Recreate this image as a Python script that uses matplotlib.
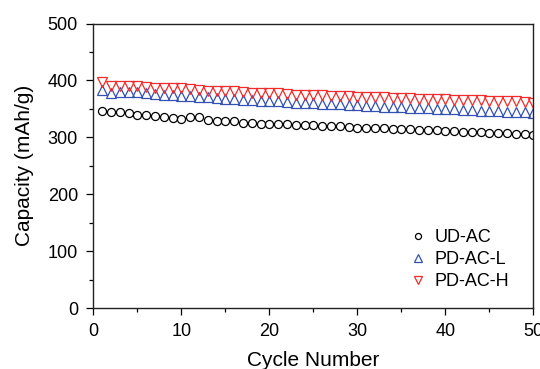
import numpy as np
import matplotlib
matplotlib.use("Agg")
import matplotlib.pyplot as plt
from matplotlib.ticker import MultipleLocator

plt.rcParams['font.family'] = ['Liberation Sans', 'DejaVu Sans']

cycles = np.arange(1, 51)

ud_ac = [346, 344, 345, 342, 340, 339, 338, 336, 334, 333,
         336, 335, 330, 329, 328, 329, 326, 325, 324, 324,
         323, 323, 322, 321, 321, 320, 319, 319, 318, 317,
         316, 316, 316, 315, 314, 314, 313, 313, 312, 311,
         311, 310, 309, 309, 308, 308, 307, 306, 305, 304]

pd_ac_l = [384, 378, 380, 379, 379, 377, 376, 375, 374, 373,
           373, 371, 370, 369, 368, 367, 366, 365, 364, 364,
           363, 362, 361, 361, 360, 359, 358, 358, 357, 356,
           355, 355, 354, 353, 353, 352, 351, 351, 350, 350,
           349, 348, 348, 347, 346, 346, 345, 345, 344, 343]

pd_ac_h = [397, 390, 391, 391, 391, 388, 387, 386, 386, 386,
           385, 383, 382, 382, 381, 382, 379, 378, 378, 377,
           377, 376, 375, 375, 374, 374, 373, 372, 372, 371,
           371, 370, 370, 369, 369, 369, 368, 368, 367, 367,
           366, 366, 365, 365, 364, 364, 363, 363, 362, 361]

fig = plt.figure(figsize=(5.4, 3.69), dpi=100)
ax = fig.add_axes([0.1728, 0.1653, 0.8148, 0.771])

ax.plot(cycles, ud_ac, 'o', ms=5.8, mfc='none', mec='black', mew=0.9, label='UD-AC')
ax.plot(cycles, pd_ac_l, '^', ms=6.8, mfc='none', mec='#3450b4', mew=0.9, label='PD-AC-L')
ax.plot(cycles, pd_ac_h, 'v', ms=6.8, mfc='none', mec='#f52a2a', mew=0.9, label='PD-AC-H')

ax.set_xlim(0, 50)
ax.set_ylim(0, 500)
ax.xaxis.set_major_locator(MultipleLocator(10))
ax.xaxis.set_minor_locator(MultipleLocator(5))
ax.yaxis.set_major_locator(MultipleLocator(100))
ax.yaxis.set_minor_locator(MultipleLocator(50))
ax.tick_params(which='major', direction='out', length=5, width=0.9, labelsize=13, pad=6)
ax.tick_params(which='minor', direction='out', length=3, width=0.9)

for s in ax.spines.values():
    s.set_linewidth(1.0)
    s.set_color('#222222')

ax.set_xlabel('Cycle Number', fontsize=15, labelpad=8)
ax.set_ylabel('Capacity (mAh/g)', fontsize=15, labelpad=10)

ax.legend(loc='lower right', bbox_to_anchor=(0.962, 0.038), frameon=False, fontsize=13,
          markerscale=0.75, handlelength=0.9, handletextpad=0.45, labelspacing=0.28,
          borderaxespad=0.0)

fig.savefig('out.png', dpi=100)
